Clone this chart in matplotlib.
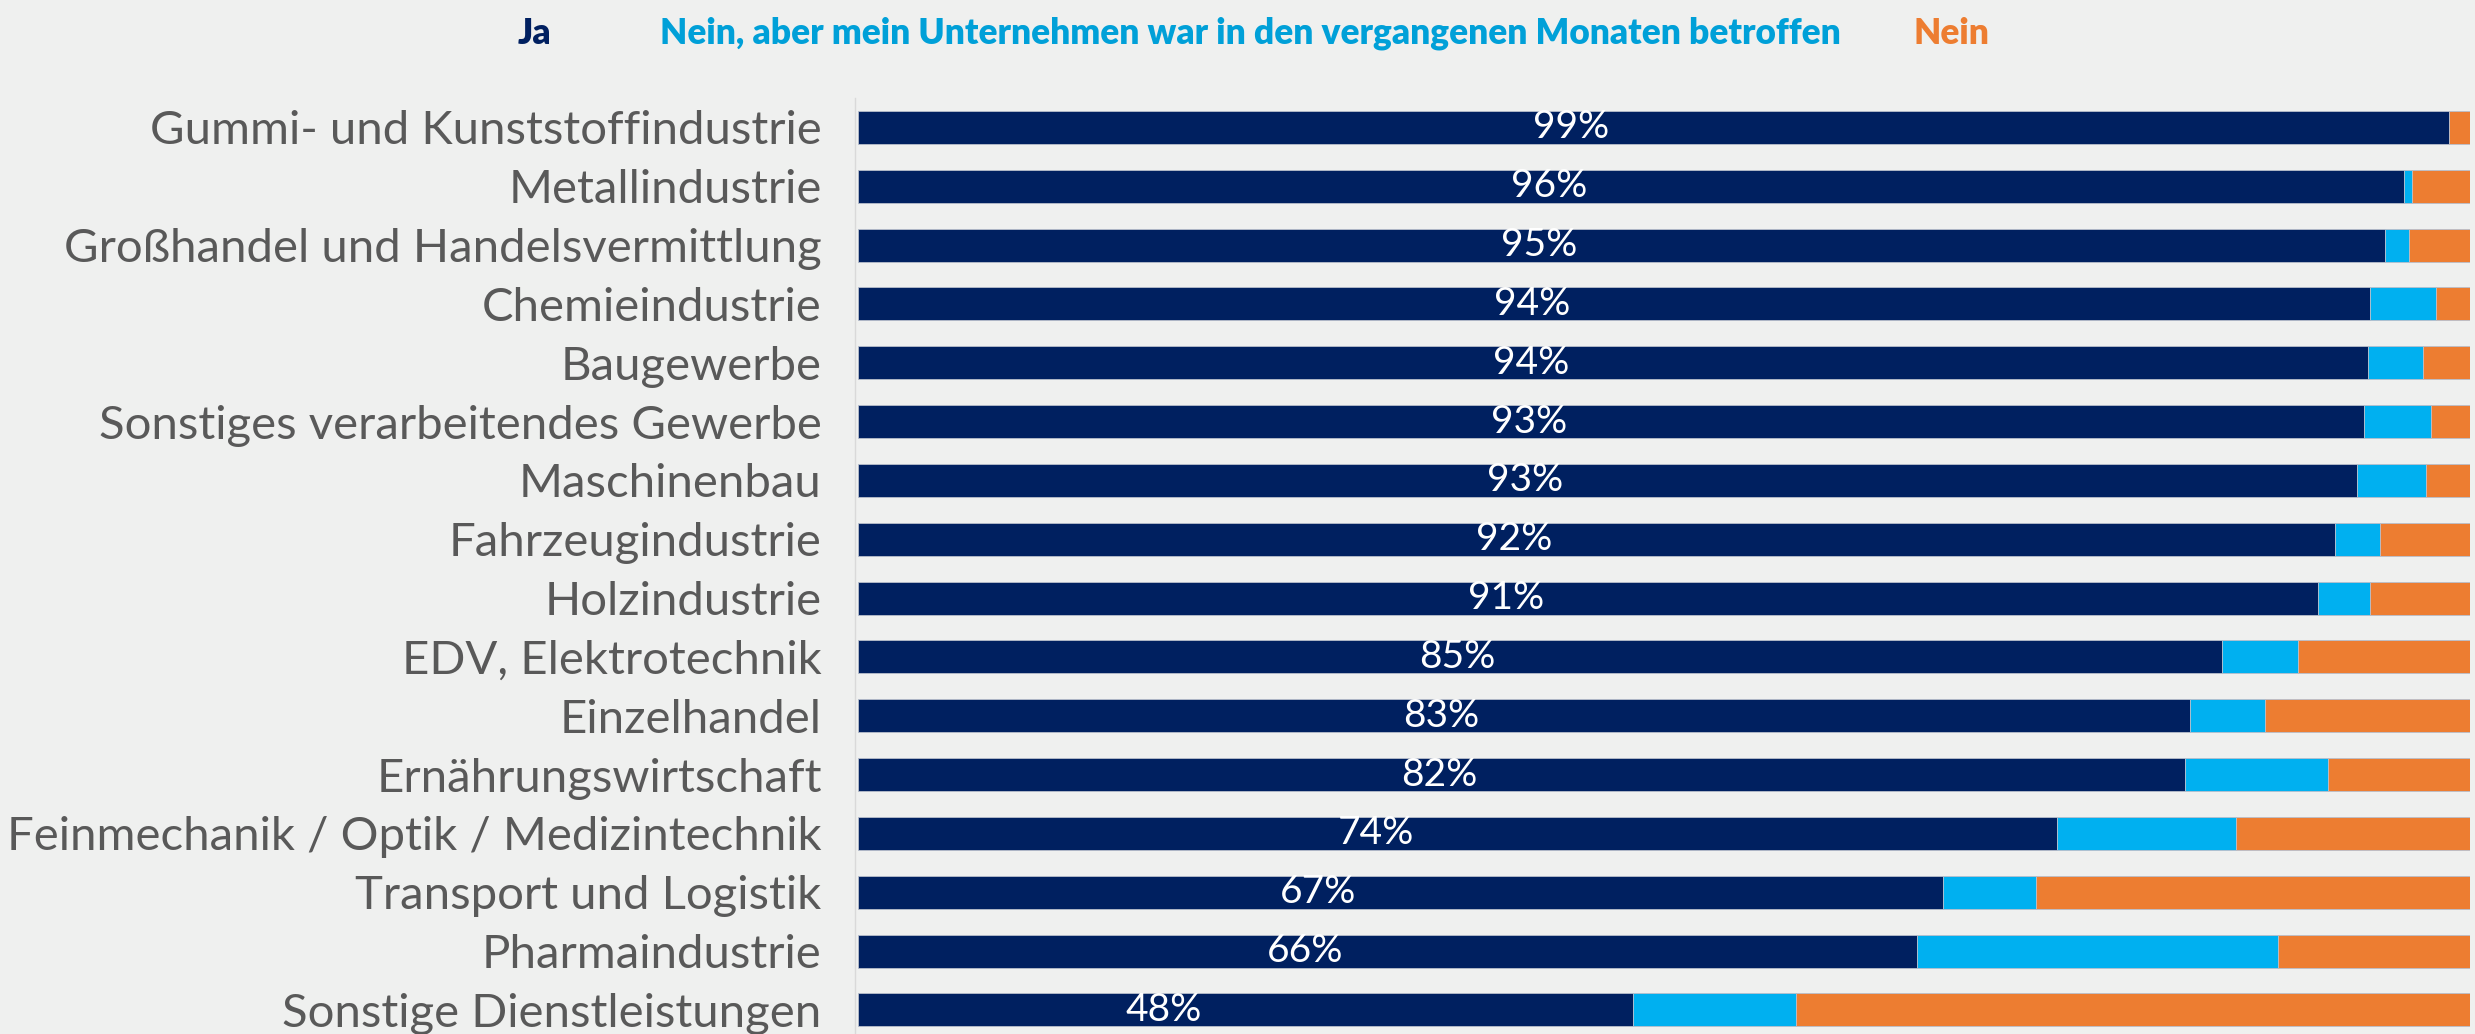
#!/usr/bin/env python3
"""
Stacked horizontal bars: share of companies affected, by industry.
Writes out.png (2475x1034).
"""

import matplotlib
matplotlib.use("Agg")
import matplotlib.pyplot as plt

# -----------------------------------------------------------------------------
# DATA (percent)
# -----------------------------------------------------------------------------
branchen = [
    "Gummi- und Kunststoffindustrie",
    "Metallindustrie",
    "Großhandel und Handelsvermittlung",
    "Chemieindustrie",
    "Baugewerbe",
    "Sonstiges verarbeitendes Gewerbe",
    "Maschinenbau",
    "Fahrzeugindustrie",
    "Holzindustrie",
    "EDV, Elektrotechnik",
    "Einzelhandel",
    "Ernährungswirtschaft",
    "Feinmechanik / Optik / Medizintechnik",
    "Transport und Logistik",
    "Pharmaindustrie",
    "Sonstige Dienstleistungen",
]
ja = [98.7, 95.9, 94.7, 93.8, 93.7, 93.4, 93.0, 91.6,
      90.6, 84.6, 82.6, 82.3, 74.4, 67.3, 65.7, 48.1]
nein_aber = [0.0, 0.5, 1.5, 4.1, 3.4, 4.2, 4.3, 2.8,
             3.2, 4.7, 4.7, 8.9, 11.1, 5.8, 22.4, 10.1]
nein = [1.3, 3.6, 3.8, 2.1, 2.9, 2.4, 2.7, 5.6,
        6.2, 10.7, 12.7, 8.8, 14.5, 26.9, 11.9, 41.8]

serien = ["Ja", "Nein, aber mein Unternehmen war in den vergangenen Monaten betroffen", "Nein"]

# -----------------------------------------------------------------------------
# STYLE
# -----------------------------------------------------------------------------
BG = "#eff0ef"
NAVY = "#002060"
CYAN = "#00b0f0"
ORANGE = "#ed7d31"
LEGEND_COLORS = [NAVY, "#00a0d8", ORANGE]
LABEL_FONT = ["Lato", "DejaVu Sans"]
LEGEND_FONT = ["Lato", "DejaVu Sans"]

W, H, DPI = 2475, 1034, 100

# -----------------------------------------------------------------------------
fig = plt.figure(figsize=(W / DPI, H / DPI), dpi=DPI, facecolor=BG)
ax = fig.add_axes([855 / W, 0.0, (2470 - 855) / W, (H - 98) / H])
ax.set_facecolor(BG)

y = list(range(len(branchen)))
left2 = [a + b for a, b in zip(ja, nein_aber)]
edge = dict(edgecolor="#b8bfcc", linewidth=0.6, height=0.56)
ax.barh(y, ja, color=NAVY, **edge)
ax.barh(y, nein_aber, left=ja, color=CYAN, **edge)
ax.barh(y, nein, left=left2, color=ORANGE, **edge)

# percent labels inside the navy segment
for yi, v in zip(y, ja):
    ax.text(v / 2 - 5.1, yi, f"{v:.0f}%", color="white", ha="center",
            va="center", fontsize=28, family=LABEL_FONT)

ax.set_xlim(-0.2, 100)
ax.set_ylim(15.41, -0.5)
ax.set_yticks(y)
ax.set_yticklabels(branchen, fontsize=34, color="#595959", family=LABEL_FONT)
ax.tick_params(axis="y", length=0, pad=24)
ax.set_xticks([])
for side in ["top", "right", "bottom"]:
    ax.spines[side].set_visible(False)
ax.spines["left"].set_color("#d9d9d9")
ax.spines["left"].set_linewidth(1.0)

# legend as coloured text at the top
legend_x = [518, 660, 1914]
for name, col, xp in zip(serien, LEGEND_COLORS, legend_x):
    fig.text(xp / W, 1 - 44 / H, name, color=col, fontsize=25.4,
             fontweight="heavy", family=LEGEND_FONT, ha="left", va="baseline")

fig.savefig("out.png", dpi=DPI, facecolor=BG)
